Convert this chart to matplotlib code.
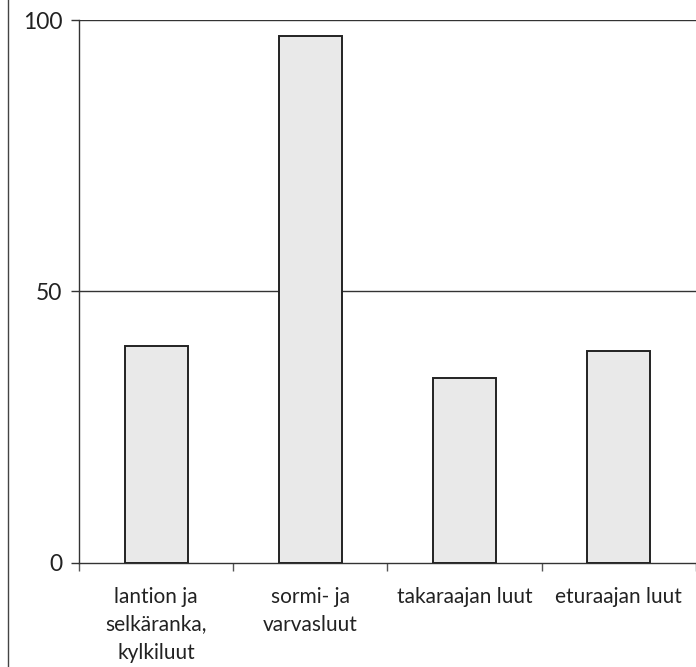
import numpy as np
import matplotlib.pyplot as plt
from matplotlib.lines import Line2D

categories = ["lantion ja\nselkäranka,\nkylkiluut", "sormi- ja\nvarvasluut",
              "takaraajan luut", "eturaajan luut"]
values = [40, 97, 34, 39]
y_ticks = [0, 50, 100]

plt.rcParams['font.family'] = ['Lato', 'DejaVu Sans']

fig = plt.figure(figsize=(6.96, 6.67), dpi=100)
ax = fig.add_axes([0.1135, 0.156, 0.8865, 0.814])

x = np.arange(len(categories))
ax.bar(x, values, width=0.41, color='#e9e9e9', edgecolor='#222222', linewidth=1.4, zorder=3)

ax.set_xlim(-0.5, 3.5)
ax.set_ylim(0, 100)

# gridlines at 50 and 100
for v in y_ticks[1:]:
    ax.axhline(v, color='#333333', linewidth=1.0, zorder=1)

ax.set_yticks(y_ticks)
ax.set_yticklabels([str(v) for v in y_ticks], fontsize=16.5, color='#222222')
ax.tick_params(axis='y', length=6, width=1, color='#333333', pad=6)

ax.set_xticks(x)
ax.set_xticklabels(categories, fontsize=15, linespacing=1.5, color='#222222')
ax.tick_params(axis='x', which='major', length=0, pad=17)
ax.set_xticks(np.arange(-0.5, 3.6, 1), minor=True)
ax.tick_params(axis='x', which='minor', length=6, width=1, color='#555555', direction='out')

for s in ['top', 'right']:
    ax.spines[s].set_visible(False)
for s in ['left', 'bottom']:
    ax.spines[s].set_color('#333333')
    ax.spines[s].set_linewidth(1.0)

# outer frame line on the left
fig.add_artist(Line2D([0.0115, 0.0115], [0, 1], color='#444444', linewidth=1.0,
                      transform=fig.transFigure))

plt.savefig('out.png', dpi=100)
